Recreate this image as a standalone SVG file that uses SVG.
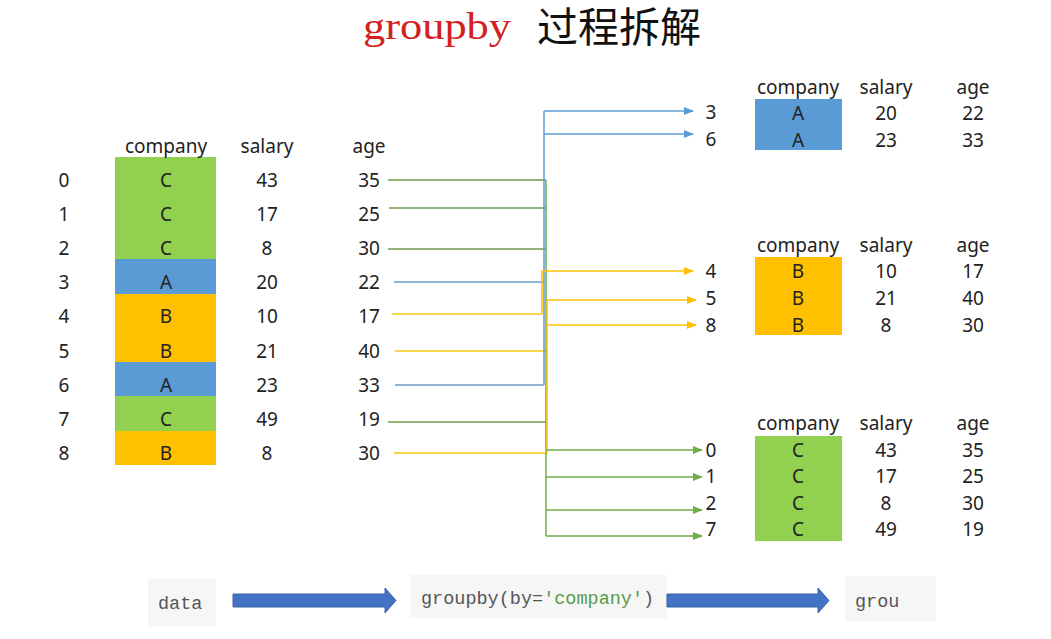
<svg xmlns="http://www.w3.org/2000/svg" width="1051" height="639" viewBox="0 0 1051 639">
<style>
.t{font-family:"Noto Sans","Liberation Sans",sans-serif;font-size:19px;fill:#222;text-anchor:middle;dominant-baseline:central}
.c{font-family:"Liberation Mono",monospace;font-size:18.5px;fill:#555}
.lg{stroke:#6f9a4e;stroke-width:1.3;fill:none}
.lb{stroke:#8fb4d6;stroke-width:1.8;fill:none}
.ly{stroke:#f7d44a;stroke-width:1.8;fill:none}
.ab{stroke:#5b9bd5;stroke-width:1.5;fill:none}
.ay{stroke:#ffc000;stroke-width:1.5;fill:none}
.ag{stroke:#70ad47;stroke-width:1.5;fill:none}
.G{fill:#92d050}.B{fill:#5b9bd5}.Y{fill:#ffc000}
</style>
<defs>
<marker id="mb" markerWidth="10" markerHeight="8" refX="9" refY="4" orient="auto" markerUnits="userSpaceOnUse"><path d="M0,0L10,4L0,8z" fill="#5b9bd5"/></marker>
<marker id="my" markerWidth="10" markerHeight="8" refX="9" refY="4" orient="auto" markerUnits="userSpaceOnUse"><path d="M0,0L10,4L0,8z" fill="#ffc000"/></marker>
<marker id="mg" markerWidth="10" markerHeight="8" refX="9" refY="4" orient="auto" markerUnits="userSpaceOnUse"><path d="M0,0L10,4L0,8z" fill="#70ad47"/></marker>
</defs>
<rect width="1051" height="639" fill="#fff"/>
<g id="title">
<text x="363" y="39" font-family="Liberation Serif,serif" font-size="37" fill="#d42020" textLength="148" lengthAdjust="spacingAndGlyphs">groupby</text>
<text x="537" y="42" font-family="Noto Sans CJK SC,sans-serif" font-size="41" fill="#111">过程拆解</text>
</g>
<g id="table-data">
<rect class="G" x="115" y="157" width="101" height="102"/>
<rect class="B" x="115" y="259" width="101" height="35"/>
<rect class="Y" x="115" y="294" width="101" height="68"/>
<rect class="B" x="115" y="362" width="101" height="34"/>
<rect class="G" x="115" y="396" width="101" height="35"/>
<rect class="Y" x="115" y="431" width="101" height="34"/>
<text class="t" x="166" y="146">company</text><text class="t" x="267" y="146">salary</text><text class="t" x="369" y="146">age</text>
<g>
<text class="t" x="64" y="180">0</text><text class="t" x="166" y="180">C</text><text class="t" x="267" y="180">43</text><text class="t" x="369" y="180">35</text>
<text class="t" x="64" y="214">1</text><text class="t" x="166" y="214">C</text><text class="t" x="267" y="214">17</text><text class="t" x="369" y="214">25</text>
<text class="t" x="64" y="248">2</text><text class="t" x="166" y="248">C</text><text class="t" x="267" y="248">8</text><text class="t" x="369" y="248">30</text>
<text class="t" x="64" y="282">3</text><text class="t" x="166" y="282">A</text><text class="t" x="267" y="282">20</text><text class="t" x="369" y="282">22</text>
<text class="t" x="64" y="316">4</text><text class="t" x="166" y="316">B</text><text class="t" x="267" y="316">10</text><text class="t" x="369" y="316">17</text>
<text class="t" x="64" y="351">5</text><text class="t" x="166" y="351">B</text><text class="t" x="267" y="351">21</text><text class="t" x="369" y="351">40</text>
<text class="t" x="64" y="385">6</text><text class="t" x="166" y="385">A</text><text class="t" x="267" y="385">23</text><text class="t" x="369" y="385">33</text>
<text class="t" x="64" y="419">7</text><text class="t" x="166" y="419">C</text><text class="t" x="267" y="419">49</text><text class="t" x="369" y="419">19</text>
<text class="t" x="64" y="453">8</text><text class="t" x="166" y="453">B</text><text class="t" x="267" y="453">8</text><text class="t" x="369" y="453">30</text>
</g>
</g>
<g id="connectors">
<path class="lg" d="M388,180H546M389,208H546M388,249H546M388,422H546"/>
<path class="lb" d="M394,282H544M395,385H544"/>
<path class="ly" d="M392,314H542M395,351H547M394,453H547"/>
<path class="ab" d="M544,385V111"/>
<path class="ag" d="M546,180V536"/>
<path class="ay" d="M542,314V271M547,453V300"/>
<path class="ab" d="M544,111H693" marker-end="url(#mb)"/>
<path class="ab" d="M544,134H693" marker-end="url(#mb)"/>
<path class="ay" d="M542,271H693" marker-end="url(#my)"/>
<path class="ay" d="M547,300H696" marker-end="url(#my)"/>
<path class="ay" d="M547,325H696" marker-end="url(#my)"/>
<path class="ag" d="M546,450H702" marker-end="url(#mg)"/>
<path class="ag" d="M546,477H702" marker-end="url(#mg)"/>
<path class="ag" d="M546,510H702" marker-end="url(#mg)"/>
<path class="ag" d="M546,536H702" marker-end="url(#mg)"/>
<text class="t" x="711" y="112">3</text><text class="t" x="711" y="139">6</text>
<text class="t" x="711" y="271">4</text><text class="t" x="711" y="298">5</text><text class="t" x="711" y="325">8</text>
<text class="t" x="711" y="450">0</text><text class="t" x="711" y="476">1</text><text class="t" x="711" y="503">2</text><text class="t" x="711" y="529">7</text>
</g>
<g id="group-A">
<rect class="B" x="755" y="99" width="87" height="51"/>
<text class="t" x="798" y="87">company</text><text class="t" x="886" y="87">salary</text><text class="t" x="973" y="87">age</text>
<text class="t" x="798" y="113">A</text><text class="t" x="886" y="113">20</text><text class="t" x="973" y="113">22</text>
<text class="t" x="798" y="140">A</text><text class="t" x="886" y="140">23</text><text class="t" x="973" y="140">33</text>
</g>
<g id="group-B">
<rect class="Y" x="755" y="257" width="87" height="78"/>
<text class="t" x="798" y="245">company</text><text class="t" x="886" y="245">salary</text><text class="t" x="973" y="245">age</text>
<text class="t" x="798" y="271">B</text><text class="t" x="886" y="271">10</text><text class="t" x="973" y="271">17</text>
<text class="t" x="798" y="298">B</text><text class="t" x="886" y="298">21</text><text class="t" x="973" y="298">40</text>
<text class="t" x="798" y="325">B</text><text class="t" x="886" y="325">8</text><text class="t" x="973" y="325">30</text>
</g>
<g id="group-C">
<rect class="G" x="755" y="436" width="87" height="105"/>
<text class="t" x="798" y="423">company</text><text class="t" x="886" y="423">salary</text><text class="t" x="973" y="423">age</text>
<text class="t" x="798" y="450">C</text><text class="t" x="886" y="450">43</text><text class="t" x="973" y="450">35</text>
<text class="t" x="798" y="476">C</text><text class="t" x="886" y="476">17</text><text class="t" x="973" y="476">25</text>
<text class="t" x="798" y="503">C</text><text class="t" x="886" y="503">8</text><text class="t" x="973" y="503">30</text>
<text class="t" x="798" y="529">C</text><text class="t" x="886" y="529">49</text><text class="t" x="973" y="529">19</text>
</g>
<g id="flow-data">
<rect x="148" y="578" width="68" height="48" fill="#f6f6f6"/>
<text class="c" x="158" y="609">data</text>
</g>
<g id="flow-groupby">
<rect x="410" y="575" width="257" height="43" fill="#f6f6f6"/>
<text class="c" x="421" y="604">groupby(by=<tspan fill="#5a9a4a">'company'</tspan>)</text>
</g>
<g id="flow-result">
<rect x="845" y="576" width="91" height="46" fill="#f6f6f6"/>
<text class="c" x="855" y="607">grou</text>
</g>
<g id="flow-arrows">
<path d="M233,594H385V588L396,600.5L385,613V607H233z" fill="#4472c4" stroke="#3a62a8" stroke-width="1"/>
<path d="M667,594H818V588L829,600.5L818,613V607H667z" fill="#4472c4" stroke="#3a62a8" stroke-width="1"/>
</g>
</svg>
